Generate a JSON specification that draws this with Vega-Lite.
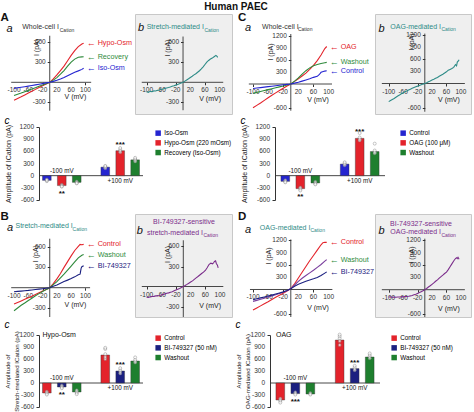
{
"$schema":"https://vega.github.io/schema/vega-lite/v6.json",
"padding":{"left":0,"top":1,"right":0,"bottom":0},
"background":"white",
"title":{"text":"Human PAEC","fontSize":10,"fontWeight":"bold","anchor":"middle","offset":0,"color":"#111"},
"config":{"view":{"stroke":null},"font":"Liberation Sans","numberFormat":"d"},
"resolve":{"scale":{"color":"independent","stroke":"independent","fill":"independent","xOffset":"independent"}},
"datasets":{
"xt":[{"t":-100,"lab":"-100"},{"t":-60,"lab":"-60"},{"t":-20,"lab":"-20"},{"t":20,"lab":"20"},{"t":60,"lab":"60"},{"t":100,"lab":"100"}],
"yt6":[{"t":-300,"lab":"-300"},{"t":300,"lab":"300"},{"t":600,"lab":"600"}],
"yt12":[{"t":-600,"lab":"-600"},{"t":300,"lab":"300"},{"t":600,"lab":"600"},{"t":900,"lab":"900"},{"t":1200,"lab":"1200"}],
"ybar":[{"t":-600,"lab":"-600"},{"t":-300,"lab":"-300"},{"t":0,"lab":"0"},{"t":300,"lab":"300"},{"t":600,"lab":"600"},{"t":900,"lab":"900"},{"t":1200,"lab":"1200"}],
"aa":[
{"s":"Hypo-Osm","V":-100,"I":-265},{"s":"Hypo-Osm","V":-90,"I":-240},{"s":"Hypo-Osm","V":-80,"I":-215},{"s":"Hypo-Osm","V":-70,"I":-188},{"s":"Hypo-Osm","V":-60,"I":-160},{"s":"Hypo-Osm","V":-50,"I":-132},{"s":"Hypo-Osm","V":-40,"I":-105},{"s":"Hypo-Osm","V":-30,"I":-78},{"s":"Hypo-Osm","V":-20,"I":-50},{"s":"Hypo-Osm","V":-10,"I":-24},{"s":"Hypo-Osm","V":0,"I":0},{"s":"Hypo-Osm","V":10,"I":50},{"s":"Hypo-Osm","V":20,"I":110},{"s":"Hypo-Osm","V":30,"I":175},{"s":"Hypo-Osm","V":40,"I":240},{"s":"Hypo-Osm","V":50,"I":320},{"s":"Hypo-Osm","V":60,"I":400},{"s":"Hypo-Osm","V":70,"I":470},{"s":"Hypo-Osm","V":80,"I":530},{"s":"Hypo-Osm","V":90,"I":570},{"s":"Hypo-Osm","V":95,"I":580},
{"s":"Recovery","V":-100,"I":-195},{"s":"Recovery","V":-90,"I":-178},{"s":"Recovery","V":-80,"I":-160},{"s":"Recovery","V":-70,"I":-140},{"s":"Recovery","V":-60,"I":-120},{"s":"Recovery","V":-50,"I":-100},{"s":"Recovery","V":-40,"I":-80},{"s":"Recovery","V":-30,"I":-60},{"s":"Recovery","V":-20,"I":-40},{"s":"Recovery","V":-10,"I":-20},{"s":"Recovery","V":0,"I":0},{"s":"Recovery","V":10,"I":32},{"s":"Recovery","V":20,"I":70},{"s":"Recovery","V":30,"I":120},{"s":"Recovery","V":40,"I":175},{"s":"Recovery","V":50,"I":240},{"s":"Recovery","V":60,"I":300},{"s":"Recovery","V":70,"I":345},{"s":"Recovery","V":80,"I":372},{"s":"Recovery","V":90,"I":378},{"s":"Recovery","V":95,"I":380},
{"s":"Iso-Osm","V":-100,"I":-90},{"s":"Iso-Osm","V":-90,"I":-82},{"s":"Iso-Osm","V":-80,"I":-74},{"s":"Iso-Osm","V":-70,"I":-66},{"s":"Iso-Osm","V":-60,"I":-57},{"s":"Iso-Osm","V":-50,"I":-47},{"s":"Iso-Osm","V":-40,"I":-38},{"s":"Iso-Osm","V":-30,"I":-28},{"s":"Iso-Osm","V":-20,"I":-19},{"s":"Iso-Osm","V":-10,"I":-9},{"s":"Iso-Osm","V":0,"I":0},{"s":"Iso-Osm","V":10,"I":14},{"s":"Iso-Osm","V":20,"I":30},{"s":"Iso-Osm","V":30,"I":48},{"s":"Iso-Osm","V":40,"I":70},{"s":"Iso-Osm","V":50,"I":97},{"s":"Iso-Osm","V":60,"I":125},{"s":"Iso-Osm","V":70,"I":150},{"s":"Iso-Osm","V":80,"I":170},{"s":"Iso-Osm","V":90,"I":192},{"s":"Iso-Osm","V":95,"I":210}],
"ab":[
{"V":-100,"I":-140},{"V":-95,"I":-150},{"V":-90,"I":-135},{"V":-85,"I":-140},{"V":-80,"I":-128},{"V":-75,"I":-130},{"V":-70,"I":-118},{"V":-65,"I":-115},{"V":-60,"I":-105},{"V":-55,"I":-100},{"V":-50,"I":-92},{"V":-45,"I":-85},{"V":-40,"I":-78},{"V":-35,"I":-70},{"V":-30,"I":-60},{"V":-25,"I":-52},{"V":-20,"I":-42},{"V":-15,"I":-32},{"V":-10,"I":-22},{"V":-5,"I":-10},{"V":0,"I":0},{"V":5,"I":18},{"V":10,"I":35},{"V":15,"I":52},{"V":20,"I":72},{"V":25,"I":90},{"V":30,"I":110},{"V":35,"I":128},{"V":40,"I":150},{"V":45,"I":172},{"V":50,"I":200},{"V":55,"I":230},{"V":60,"I":265},{"V":65,"I":300},{"V":70,"I":325},{"V":75,"I":345},{"V":80,"I":360},{"V":85,"I":380},{"V":90,"I":400},{"V":93,"I":385},{"V":95,"I":370}],
"ca":[
{"s":"OAG","V":-100,"I":-590},{"s":"OAG","V":-90,"I":-530},{"s":"OAG","V":-80,"I":-470},{"s":"OAG","V":-70,"I":-405},{"s":"OAG","V":-60,"I":-340},{"s":"OAG","V":-50,"I":-280},{"s":"OAG","V":-40,"I":-220},{"s":"OAG","V":-30,"I":-160},{"s":"OAG","V":-20,"I":-105},{"s":"OAG","V":-10,"I":-50},{"s":"OAG","V":0,"I":0},{"s":"OAG","V":10,"I":65},{"s":"OAG","V":20,"I":130},{"s":"OAG","V":30,"I":200},{"s":"OAG","V":40,"I":270},{"s":"OAG","V":50,"I":360},{"s":"OAG","V":60,"I":460},{"s":"OAG","V":70,"I":580},{"s":"OAG","V":80,"I":720},{"s":"OAG","V":90,"I":880},{"s":"OAG","V":95,"I":930},
{"s":"Washout","V":-100,"I":-230},{"s":"Washout","V":-90,"I":-208},{"s":"Washout","V":-80,"I":-185},{"s":"Washout","V":-70,"I":-163},{"s":"Washout","V":-60,"I":-140},{"s":"Washout","V":-50,"I":-118},{"s":"Washout","V":-40,"I":-95},{"s":"Washout","V":-30,"I":-72},{"s":"Washout","V":-20,"I":-50},{"s":"Washout","V":-10,"I":-25},{"s":"Washout","V":0,"I":0},{"s":"Washout","V":10,"I":70},{"s":"Washout","V":20,"I":150},{"s":"Washout","V":30,"I":245},{"s":"Washout","V":40,"I":330},{"s":"Washout","V":50,"I":400},{"s":"Washout","V":60,"I":450},{"s":"Washout","V":70,"I":485},{"s":"Washout","V":80,"I":510},{"s":"Washout","V":90,"I":528},{"s":"Washout","V":95,"I":537},
{"s":"Control","V":-100,"I":-110},{"s":"Control","V":-90,"I":-100},{"s":"Control","V":-80,"I":-90},{"s":"Control","V":-70,"I":-78},{"s":"Control","V":-60,"I":-65},{"s":"Control","V":-50,"I":-54},{"s":"Control","V":-40,"I":-43},{"s":"Control","V":-30,"I":-32},{"s":"Control","V":-20,"I":-20},{"s":"Control","V":-10,"I":-10},{"s":"Control","V":0,"I":0},{"s":"Control","V":10,"I":22},{"s":"Control","V":20,"I":45},{"s":"Control","V":30,"I":72},{"s":"Control","V":40,"I":100},{"s":"Control","V":50,"I":130},{"s":"Control","V":60,"I":165},{"s":"Control","V":70,"I":190},{"s":"Control","V":75,"I":230},{"s":"Control","V":80,"I":290},{"s":"Control","V":90,"I":320},{"s":"Control","V":95,"I":330}],
"cb":[
{"V":-100,"I":-450},{"V":-95,"I":-420},{"V":-90,"I":-395},{"V":-85,"I":-370},{"V":-80,"I":-340},{"V":-75,"I":-310},{"V":-70,"I":-285},{"V":-65,"I":-255},{"V":-60,"I":-230},{"V":-55,"I":-205},{"V":-50,"I":-185},{"V":-45,"I":-160},{"V":-40,"I":-140},{"V":-35,"I":-120},{"V":-30,"I":-100},{"V":-25,"I":-80},{"V":-20,"I":-65},{"V":-15,"I":-48},{"V":-10,"I":-32},{"V":-5,"I":-15},{"V":0,"I":0},{"V":5,"I":20},{"V":10,"I":42},{"V":15,"I":62},{"V":20,"I":85},{"V":25,"I":105},{"V":30,"I":128},{"V":35,"I":150},{"V":40,"I":180},{"V":45,"I":205},{"V":50,"I":230},{"V":55,"I":260},{"V":60,"I":290},{"V":65,"I":330},{"V":70,"I":350},{"V":75,"I":370},{"V":80,"I":400},{"V":85,"I":470},{"V":88,"I":440},{"V":90,"I":530},{"V":93,"I":560},{"V":95,"I":590}],
"ba":[
{"s":"Control","V":-100,"I":-240},{"s":"Control","V":-90,"I":-218},{"s":"Control","V":-80,"I":-195},{"s":"Control","V":-70,"I":-172},{"s":"Control","V":-60,"I":-150},{"s":"Control","V":-50,"I":-125},{"s":"Control","V":-40,"I":-100},{"s":"Control","V":-30,"I":-75},{"s":"Control","V":-20,"I":-50},{"s":"Control","V":-10,"I":-25},{"s":"Control","V":0,"I":0},{"s":"Control","V":10,"I":60},{"s":"Control","V":20,"I":130},{"s":"Control","V":30,"I":210},{"s":"Control","V":40,"I":300},{"s":"Control","V":50,"I":385},{"s":"Control","V":60,"I":470},{"s":"Control","V":70,"I":550},{"s":"Control","V":80,"I":610},{"s":"Control","V":85,"I":640},{"s":"Control","V":90,"I":635},{"s":"Control","V":95,"I":640},
{"s":"Washout","V":-100,"I":-340},{"s":"Washout","V":-90,"I":-300},{"s":"Washout","V":-80,"I":-260},{"s":"Washout","V":-70,"I":-225},{"s":"Washout","V":-60,"I":-190},{"s":"Washout","V":-50,"I":-155},{"s":"Washout","V":-40,"I":-120},{"s":"Washout","V":-30,"I":-88},{"s":"Washout","V":-20,"I":-55},{"s":"Washout","V":-10,"I":-27},{"s":"Washout","V":0,"I":0},{"s":"Washout","V":10,"I":45},{"s":"Washout","V":20,"I":90},{"s":"Washout","V":30,"I":145},{"s":"Washout","V":40,"I":200},{"s":"Washout","V":50,"I":260},{"s":"Washout","V":60,"I":320},{"s":"Washout","V":70,"I":380},{"s":"Washout","V":80,"I":440},{"s":"Washout","V":90,"I":480},{"s":"Washout","V":95,"I":490},
{"s":"BI-749327","V":-100,"I":-60},{"s":"BI-749327","V":-90,"I":-55},{"s":"BI-749327","V":-80,"I":-50},{"s":"BI-749327","V":-70,"I":-45},{"s":"BI-749327","V":-60,"I":-40},{"s":"BI-749327","V":-50,"I":-33},{"s":"BI-749327","V":-40,"I":-27},{"s":"BI-749327","V":-30,"I":-21},{"s":"BI-749327","V":-20,"I":-15},{"s":"BI-749327","V":-10,"I":-8},{"s":"BI-749327","V":0,"I":0},{"s":"BI-749327","V":10,"I":20},{"s":"BI-749327","V":20,"I":40},{"s":"BI-749327","V":30,"I":65},{"s":"BI-749327","V":40,"I":90},{"s":"BI-749327","V":50,"I":112},{"s":"BI-749327","V":60,"I":135},{"s":"BI-749327","V":70,"I":160},{"s":"BI-749327","V":80,"I":190},{"s":"BI-749327","V":85,"I":200},{"s":"BI-749327","V":88,"I":290},{"s":"BI-749327","V":90,"I":310},{"s":"BI-749327","V":95,"I":325}],
"bb":[
{"V":-100,"I":-160},{"V":-95,"I":-165},{"V":-90,"I":-155},{"V":-85,"I":-150},{"V":-80,"I":-148},{"V":-75,"I":-140},{"V":-70,"I":-140},{"V":-65,"I":-135},{"V":-60,"I":-128},{"V":-55,"I":-118},{"V":-50,"I":-110},{"V":-45,"I":-100},{"V":-40,"I":-95},{"V":-35,"I":-85},{"V":-30,"I":-78},{"V":-25,"I":-65},{"V":-20,"I":-52},{"V":-15,"I":-40},{"V":-10,"I":-28},{"V":-5,"I":-14},{"V":0,"I":0},{"V":5,"I":15},{"V":10,"I":32},{"V":15,"I":50},{"V":20,"I":68},{"V":25,"I":85},{"V":30,"I":108},{"V":35,"I":130},{"V":40,"I":150},{"V":45,"I":172},{"V":50,"I":195},{"V":55,"I":215},{"V":60,"I":240},{"V":65,"I":280},{"V":70,"I":330},{"V":75,"I":350},{"V":80,"I":340},{"V":83,"I":360},{"V":85,"I":375},{"V":88,"I":385},{"V":90,"I":345},{"V":93,"I":320},{"V":95,"I":280}],
"da":[
{"s":"Control","V":-100,"I":-500},{"s":"Control","V":-90,"I":-450},{"s":"Control","V":-80,"I":-400},{"s":"Control","V":-70,"I":-350},{"s":"Control","V":-60,"I":-300},{"s":"Control","V":-50,"I":-245},{"s":"Control","V":-40,"I":-190},{"s":"Control","V":-30,"I":-140},{"s":"Control","V":-20,"I":-90},{"s":"Control","V":-10,"I":-40},{"s":"Control","V":0,"I":20},{"s":"Control","V":10,"I":140},{"s":"Control","V":20,"I":280},{"s":"Control","V":30,"I":420},{"s":"Control","V":40,"I":560},{"s":"Control","V":50,"I":700},{"s":"Control","V":60,"I":830},{"s":"Control","V":70,"I":960},{"s":"Control","V":80,"I":1090},{"s":"Control","V":85,"I":1140},{"s":"Control","V":90,"I":1150},{"s":"Control","V":95,"I":1150},
{"s":"Washout","V":-100,"I":-290},{"s":"Washout","V":-90,"I":-265},{"s":"Washout","V":-80,"I":-238},{"s":"Washout","V":-70,"I":-212},{"s":"Washout","V":-60,"I":-185},{"s":"Washout","V":-50,"I":-158},{"s":"Washout","V":-40,"I":-130},{"s":"Washout","V":-30,"I":-100},{"s":"Washout","V":-20,"I":-70},{"s":"Washout","V":-10,"I":-30},{"s":"Washout","V":0,"I":25},{"s":"Washout","V":10,"I":110},{"s":"Washout","V":20,"I":200},{"s":"Washout","V":30,"I":275},{"s":"Washout","V":40,"I":340},{"s":"Washout","V":50,"I":405},{"s":"Washout","V":60,"I":470},{"s":"Washout","V":70,"I":540},{"s":"Washout","V":80,"I":610},{"s":"Washout","V":90,"I":690},{"s":"Washout","V":95,"I":730},
{"s":"BI-749327","V":-100,"I":-250},{"s":"BI-749327","V":-90,"I":-228},{"s":"BI-749327","V":-80,"I":-205},{"s":"BI-749327","V":-70,"I":-183},{"s":"BI-749327","V":-60,"I":-160},{"s":"BI-749327","V":-50,"I":-137},{"s":"BI-749327","V":-40,"I":-112},{"s":"BI-749327","V":-30,"I":-85},{"s":"BI-749327","V":-20,"I":-58},{"s":"BI-749327","V":-10,"I":-25},{"s":"BI-749327","V":0,"I":15},{"s":"BI-749327","V":10,"I":80},{"s":"BI-749327","V":20,"I":130},{"s":"BI-749327","V":30,"I":165},{"s":"BI-749327","V":40,"I":200},{"s":"BI-749327","V":50,"I":230},{"s":"BI-749327","V":60,"I":260},{"s":"BI-749327","V":70,"I":295},{"s":"BI-749327","V":80,"I":340},{"s":"BI-749327","V":90,"I":400},{"s":"BI-749327","V":95,"I":430}],
"db":[
{"V":-100,"I":-180},{"V":-95,"I":-175},{"V":-90,"I":-185},{"V":-85,"I":-178},{"V":-80,"I":-185},{"V":-75,"I":-178},{"V":-70,"I":-180},{"V":-65,"I":-175},{"V":-60,"I":-175},{"V":-55,"I":-168},{"V":-50,"I":-165},{"V":-45,"I":-158},{"V":-40,"I":-150},{"V":-35,"I":-140},{"V":-30,"I":-125},{"V":-25,"I":-110},{"V":-20,"I":-90},{"V":-15,"I":-70},{"V":-10,"I":-48},{"V":-5,"I":-25},{"V":0,"I":0},{"V":5,"I":30},{"V":10,"I":65},{"V":15,"I":95},{"V":20,"I":130},{"V":25,"I":165},{"V":30,"I":205},{"V":35,"I":240},{"V":40,"I":280},{"V":45,"I":320},{"V":50,"I":355},{"V":55,"I":395},{"V":60,"I":430},{"V":65,"I":490},{"V":70,"I":560},{"V":75,"I":630},{"V":80,"I":700},{"V":85,"I":760},{"V":88,"I":780},{"V":90,"I":760},{"V":92,"I":790},{"V":95,"I":740}],
"acBars":[
{"grp":"-100 mV","cond":"Iso-Osm","amp":-115,"sig":""},{"grp":"-100 mV","cond":"Hypo-Osm (220 mOsm)","amp":-245,"sig":"**"},{"grp":"-100 mV","cond":"Recovery (Iso-Osm)","amp":-165,"sig":""},
{"grp":"+100 mV","cond":"Iso-Osm","amp":210,"sig":""},{"grp":"+100 mV","cond":"Hypo-Osm (220 mOsm)","amp":615,"sig":"***"},{"grp":"+100 mV","cond":"Recovery (Iso-Osm)","amp":390,"sig":""}],
"acPts":[
{"grp":"-100 mV","cond":"Iso-Osm","v":-95},{"grp":"-100 mV","cond":"Iso-Osm","v":-120},{"grp":"-100 mV","cond":"Iso-Osm","v":-135},{"grp":"-100 mV","cond":"Iso-Osm","v":-105},
{"grp":"-100 mV","cond":"Hypo-Osm (220 mOsm)","v":-225},{"grp":"-100 mV","cond":"Hypo-Osm (220 mOsm)","v":-240},{"grp":"-100 mV","cond":"Hypo-Osm (220 mOsm)","v":-260},{"grp":"-100 mV","cond":"Hypo-Osm (220 mOsm)","v":-270},
{"grp":"-100 mV","cond":"Recovery (Iso-Osm)","v":-145},{"grp":"-100 mV","cond":"Recovery (Iso-Osm)","v":-160},{"grp":"-100 mV","cond":"Recovery (Iso-Osm)","v":-180},{"grp":"-100 mV","cond":"Recovery (Iso-Osm)","v":-190},
{"grp":"+100 mV","cond":"Iso-Osm","v":185},{"grp":"+100 mV","cond":"Iso-Osm","v":205},{"grp":"+100 mV","cond":"Iso-Osm","v":225},{"grp":"+100 mV","cond":"Iso-Osm","v":240},
{"grp":"+100 mV","cond":"Hypo-Osm (220 mOsm)","v":575},{"grp":"+100 mV","cond":"Hypo-Osm (220 mOsm)","v":610},{"grp":"+100 mV","cond":"Hypo-Osm (220 mOsm)","v":640},{"grp":"+100 mV","cond":"Hypo-Osm (220 mOsm)","v":680},
{"grp":"+100 mV","cond":"Recovery (Iso-Osm)","v":350},{"grp":"+100 mV","cond":"Recovery (Iso-Osm)","v":380},{"grp":"+100 mV","cond":"Recovery (Iso-Osm)","v":410},{"grp":"+100 mV","cond":"Recovery (Iso-Osm)","v":440}],
"ccBars":[
{"grp":"-100 mV","cond":"Control","amp":-140,"sig":""},{"grp":"-100 mV","cond":"OAG (100 μM)","amp":-320,"sig":"**"},{"grp":"-100 mV","cond":"Washout","amp":-180,"sig":""},
{"grp":"+100 mV","cond":"Control","amp":285,"sig":""},{"grp":"+100 mV","cond":"OAG (100 μM)","amp":920,"sig":"***"},{"grp":"+100 mV","cond":"Washout","amp":595,"sig":""}],
"ccPts":[
{"grp":"-100 mV","cond":"Control","v":-110},{"grp":"-100 mV","cond":"Control","v":-130},{"grp":"-100 mV","cond":"Control","v":-150},{"grp":"-100 mV","cond":"Control","v":-165},
{"grp":"-100 mV","cond":"OAG (100 μM)","v":-290},{"grp":"-100 mV","cond":"OAG (100 μM)","v":-310},{"grp":"-100 mV","cond":"OAG (100 μM)","v":-340},{"grp":"-100 mV","cond":"OAG (100 μM)","v":-365},
{"grp":"-100 mV","cond":"Washout","v":-150},{"grp":"-100 mV","cond":"Washout","v":-175},{"grp":"-100 mV","cond":"Washout","v":-200},{"grp":"-100 mV","cond":"Washout","v":-215},
{"grp":"+100 mV","cond":"Control","v":255},{"grp":"+100 mV","cond":"Control","v":280},{"grp":"+100 mV","cond":"Control","v":300},{"grp":"+100 mV","cond":"Control","v":330},
{"grp":"+100 mV","cond":"OAG (100 μM)","v":870},{"grp":"+100 mV","cond":"OAG (100 μM)","v":900},{"grp":"+100 mV","cond":"OAG (100 μM)","v":940},{"grp":"+100 mV","cond":"OAG (100 μM)","v":1050},
{"grp":"+100 mV","cond":"Washout","v":550},{"grp":"+100 mV","cond":"Washout","v":580},{"grp":"+100 mV","cond":"Washout","v":620},{"grp":"+100 mV","cond":"Washout","v":790}],
"bcBars":[
{"grp":"-100 mV","cond":"Control","amp":-250,"sig":""},{"grp":"-100 mV","cond":"BI-749327 (50 nM)","amp":-100,"sig":"**"},{"grp":"-100 mV","cond":"Washout","amp":-225,"sig":""},
{"grp":"+100 mV","cond":"Control","amp":700,"sig":""},{"grp":"+100 mV","cond":"BI-749327 (50 nM)","amp":300,"sig":"***"},{"grp":"+100 mV","cond":"Washout","amp":550,"sig":""}],
"bcPts":[
{"grp":"-100 mV","cond":"Control","v":-215},{"grp":"-100 mV","cond":"Control","v":-240},{"grp":"-100 mV","cond":"Control","v":-265},{"grp":"-100 mV","cond":"Control","v":-290},
{"grp":"-100 mV","cond":"BI-749327 (50 nM)","v":-60},{"grp":"-100 mV","cond":"BI-749327 (50 nM)","v":-85},{"grp":"-100 mV","cond":"BI-749327 (50 nM)","v":-110},{"grp":"-100 mV","cond":"BI-749327 (50 nM)","v":-130},
{"grp":"-100 mV","cond":"Washout","v":-180},{"grp":"-100 mV","cond":"Washout","v":-215},{"grp":"-100 mV","cond":"Washout","v":-250},{"grp":"-100 mV","cond":"Washout","v":-280},
{"grp":"+100 mV","cond":"Control","v":600},{"grp":"+100 mV","cond":"Control","v":650},{"grp":"+100 mV","cond":"Control","v":720},{"grp":"+100 mV","cond":"Control","v":850},{"grp":"+100 mV","cond":"Control","v":880},
{"grp":"+100 mV","cond":"BI-749327 (50 nM)","v":240},{"grp":"+100 mV","cond":"BI-749327 (50 nM)","v":280},{"grp":"+100 mV","cond":"BI-749327 (50 nM)","v":320},{"grp":"+100 mV","cond":"BI-749327 (50 nM)","v":370},
{"grp":"+100 mV","cond":"Washout","v":510},{"grp":"+100 mV","cond":"Washout","v":540},{"grp":"+100 mV","cond":"Washout","v":580},{"grp":"+100 mV","cond":"Washout","v":640}],
"dcBars":[
{"grp":"-100 mV","cond":"Control","amp":-425,"sig":""},{"grp":"-100 mV","cond":"BI-749327 (50 nM)","amp":-265,"sig":"***"},{"grp":"-100 mV","cond":"Washout","amp":-275,"sig":""},
{"grp":"+100 mV","cond":"Control","amp":1075,"sig":""},{"grp":"+100 mV","cond":"BI-749327 (50 nM)","amp":360,"sig":"***"},{"grp":"+100 mV","cond":"Washout","amp":650,"sig":""}],
"dcPts":[
{"grp":"-100 mV","cond":"Control","v":-390},{"grp":"-100 mV","cond":"Control","v":-420},{"grp":"-100 mV","cond":"Control","v":-450},{"grp":"-100 mV","cond":"Control","v":-490},
{"grp":"-100 mV","cond":"BI-749327 (50 nM)","v":-230},{"grp":"-100 mV","cond":"BI-749327 (50 nM)","v":-260},{"grp":"-100 mV","cond":"BI-749327 (50 nM)","v":-290},
{"grp":"-100 mV","cond":"Washout","v":-250},{"grp":"-100 mV","cond":"Washout","v":-270},{"grp":"-100 mV","cond":"Washout","v":-290},
{"grp":"+100 mV","cond":"Control","v":950},{"grp":"+100 mV","cond":"Control","v":1050},{"grp":"+100 mV","cond":"Control","v":1120},{"grp":"+100 mV","cond":"Control","v":1170},{"grp":"+100 mV","cond":"Control","v":1210},
{"grp":"+100 mV","cond":"BI-749327 (50 nM)","v":320},{"grp":"+100 mV","cond":"BI-749327 (50 nM)","v":350},{"grp":"+100 mV","cond":"BI-749327 (50 nM)","v":390},{"grp":"+100 mV","cond":"BI-749327 (50 nM)","v":430},
{"grp":"+100 mV","cond":"Washout","v":620},{"grp":"+100 mV","cond":"Washout","v":660},{"grp":"+100 mV","cond":"Washout","v":700},{"grp":"+100 mV","cond":"Washout","v":740}]
},
"spacing":6,
"vconcat":[
{"spacing":1,"resolve":{"scale":{"color":"independent","stroke":"independent","fill":"independent","xOffset":"independent"}},"vconcat":[
{"hconcat":[
{"width":92.5,"height":100,"layer":[
{"data":{"values":[{}]},"mark":{"type":"rule","color":"#333","strokeWidth":0.9},"encoding":{"x":{"datum":-108,"type":"quantitative"},"x2":{"datum":116},"y":{"datum":0,"type":"quantitative"}}},
{"data":{"values":[{}]},"mark":{"type":"rule","color":"#333","strokeWidth":0.9},"encoding":{"x":{"datum":0,"type":"quantitative"},"y":{"datum":-422,"type":"quantitative"},"y2":{"datum":692}}},
{"data":{"name":"xt"},"mark":{"type":"text","fontSize":6.5,"color":"#333","baseline":"middle","dy":8},"encoding":{"x":{"field":"t","type":"quantitative"},"y":{"datum":0,"type":"quantitative"},"text":{"field":"lab"}}},
{"data":{"name":"yt6"},"mark":{"type":"text","fontSize":6.5,"color":"#333","align":"right","baseline":"middle","dx":-4},"encoding":{"x":{"datum":0,"type":"quantitative"},"y":{"field":"t","type":"quantitative"},"text":{"field":"lab"}}},
{"data":{"name":"aa"},"mark":{"type":"line","strokeWidth":1.1},"encoding":{
"x":{"field":"V","type":"quantitative","scale":{"domain":[-30.1,229],"nice":false,"zero":false},"axis":{"values":[-100,-60,-20,20,60,100],"offset":-31.7,"domain":false,"grid":false,"labels":false,"title":null,"tickSize":2.5,"tickColor":"#333"}},
"y":{"field":"I","type":"quantitative","scale":{"domain":[-471,1015],"nice":false,"zero":false},"axis":{"values":[-300,300,600],"offset":-10.75,"domain":false,"grid":false,"labels":false,"title":null,"tickSize":2.5,"tickColor":"#333"}},
"stroke":{"field":"s","type":"nominal","scale":{"domain":["Hypo-Osm","Recovery","Iso-Osm"],"range":["#e3232b","#2f8a3c","#2525d0"]},"legend":null}}},
{"data":{"name":"aa"},"transform":[{"filter":"datum.V == 95"}],"mark":{"type":"text","text":"←","align":"left","baseline":"middle","dx":3,"fontSize":9},"encoding":{"x":{"field":"V","type":"quantitative"},"y":{"field":"I","type":"quantitative"},"fill":{"field":"s","type":"nominal","scale":{"domain":["Hypo-Osm","Recovery","Iso-Osm"],"range":["#e3232b","#2f8a3c","#2525d0"]},"legend":null}}},
{"data":{"name":"aa"},"transform":[{"filter":"datum.V == 95"}],"mark":{"type":"text","align":"left","baseline":"middle","dx":14,"fontSize":7.2},"encoding":{"x":{"field":"V","type":"quantitative"},"y":{"field":"I","type":"quantitative"},"text":{"field":"s"},"fill":{"field":"s","type":"nominal","scale":{"domain":["Hypo-Osm","Recovery","Iso-Osm"],"range":["#e3232b","#2f8a3c","#2525d0"]},"legend":null}}},
{"data":{"values":[{}]},"mark":{"type":"text","text":"A","align":"left","baseline":"middle","fontSize":11.5,"fontWeight":"bold","color":"#111"},"encoding":{"x":{"datum":-138,"type":"quantitative"},"y":{"datum":958,"type":"quantitative"}}},
{"data":{"values":[{}]},"mark":{"type":"text","text":"a","align":"left","baseline":"middle","fontSize":11,"fontStyle":"italic","color":"#111"},"encoding":{"x":{"datum":-121,"type":"quantitative"},"y":{"datum":795,"type":"quantitative"}}},
{"data":{"values":[{}]},"mark":{"type":"text","text":"Whole-cell I","align":"left","baseline":"middle","fontSize":7,"color":"#333"},"encoding":{"x":{"datum":-77,"type":"quantitative"},"y":{"datum":829,"type":"quantitative"}}},
{"data":{"values":[{}]},"mark":{"type":"text","text":"Cation","align":"left","baseline":"middle","fontSize":5,"color":"#333"},"encoding":{"x":{"datum":28,"type":"quantitative"},"y":{"datum":777,"type":"quantitative"}}},
{"data":{"values":[{}]},"mark":{"type":"text","text":"I (pA)","align":"center","baseline":"middle","fontSize":7,"angle":270,"color":"#222"},"encoding":{"x":{"datum":-35,"type":"quantitative"},"y":{"datum":517,"type":"quantitative"}}},
{"data":{"values":[{}]},"mark":{"type":"text","text":"V (mV)","align":"center","baseline":"middle","fontSize":7,"color":"#222"},"encoding":{"x":{"datum":72,"type":"quantitative"},"y":{"datum":-211,"type":"quantitative"}}}
]},
{"width":97,"height":100,"view":{"fill":"#efefef","stroke":"#c8c8c8"},"layer":[
{"data":{"values":[{}]},"mark":{"type":"rule","color":"#333","strokeWidth":0.9},"encoding":{"x":{"datum":-113,"type":"quantitative"},"x2":{"datum":110},"y":{"datum":0,"type":"quantitative"}}},
{"data":{"values":[{}]},"mark":{"type":"rule","color":"#333","strokeWidth":0.9},"encoding":{"x":{"datum":0,"type":"quantitative"},"y":{"datum":-415,"type":"quantitative"},"y2":{"datum":680}}},
{"data":{"name":"xt"},"mark":{"type":"text","fontSize":6.5,"color":"#333","baseline":"middle","dy":8},"encoding":{"x":{"field":"t","type":"quantitative"},"y":{"datum":0,"type":"quantitative"},"text":{"field":"lab"}}},
{"data":{"name":"yt6"},"mark":{"type":"text","fontSize":6.5,"color":"#333","align":"right","baseline":"middle","dx":-4},"encoding":{"x":{"datum":0,"type":"quantitative"},"y":{"field":"t","type":"quantitative"},"text":{"field":"lab"}}},
{"data":{"name":"ab"},"mark":{"type":"line","strokeWidth":1.1,"color":"#2e8b87"},"encoding":{
"x":{"field":"V","type":"quantitative","scale":{"domain":[-131.5,134],"nice":false,"zero":false},"axis":{"values":[-100,-60,-20,20,60,100],"offset":-31.7,"domain":false,"grid":false,"labels":false,"title":null,"tickSize":2.5,"tickColor":"#333"}},
"y":{"field":"I","type":"quantitative","scale":{"domain":[-471,1015],"nice":false,"zero":false},"axis":{"values":[-300,300,600],"offset":-48,"domain":false,"grid":false,"labels":false,"title":null,"tickSize":2.5,"tickColor":"#333"}}}},
{"data":{"values":[{}]},"mark":{"type":"text","text":"b","align":"left","baseline":"middle","fontSize":11,"fontStyle":"italic","color":"#111"},"encoding":{"x":{"datum":-123,"type":"quantitative"},"y":{"datum":800,"type":"quantitative"}}},
{"data":{"values":[{}]},"mark":{"type":"text","text":"Stretch-mediated I","align":"left","baseline":"middle","fontSize":7,"color":"#2e8b87"},"encoding":{"x":{"datum":-99.5,"type":"quantitative"},"y":{"datum":822,"type":"quantitative"}}},
{"data":{"values":[{}]},"mark":{"type":"text","text":"Cation","align":"left","baseline":"middle","fontSize":5,"color":"#2e8b87"},"encoding":{"x":{"datum":58.5,"type":"quantitative"},"y":{"datum":777,"type":"quantitative"}}},
{"data":{"values":[{}]},"mark":{"type":"text","text":"I (pA)","align":"center","baseline":"middle","fontSize":7,"angle":270,"color":"#222"},"encoding":{"x":{"datum":-41,"type":"quantitative"},"y":{"datum":510,"type":"quantitative"}}},
{"data":{"values":[{}]},"mark":{"type":"text","text":"V (mV)","align":"center","baseline":"middle","fontSize":7,"color":"#222"},"encoding":{"x":{"datum":74,"type":"quantitative"},"y":{"datum":-243,"type":"quantitative"}}}
]},
{"width":137,"height":100,"layer":[
{"data":{"values":[{}]},"mark":{"type":"rule","color":"#333","strokeWidth":0.9},"encoding":{"x":{"datum":-111,"type":"quantitative"},"x2":{"datum":109},"y":{"datum":0,"type":"quantitative"}}},
{"data":{"values":[{}]},"mark":{"type":"rule","color":"#333","strokeWidth":0.9},"encoding":{"x":{"datum":0,"type":"quantitative"},"y":{"datum":-662,"type":"quantitative"},"y2":{"datum":1240}}},
{"data":{"name":"xt"},"mark":{"type":"text","fontSize":6.5,"color":"#333","baseline":"middle","dy":8},"encoding":{"x":{"field":"t","type":"quantitative"},"y":{"datum":0,"type":"quantitative"},"text":{"field":"lab"}}},
{"data":{"name":"yt12"},"mark":{"type":"text","fontSize":6.5,"color":"#333","align":"right","baseline":"middle","dx":-4},"encoding":{"x":{"datum":0,"type":"quantitative"},"y":{"field":"t","type":"quantitative"},"text":{"field":"lab"}}},
{"data":{"name":"ca"},"mark":{"type":"line","strokeWidth":1.1},"encoding":{
"x":{"field":"V","type":"quantitative","scale":{"domain":[-147.6,214.8],"nice":false,"zero":false},"axis":{"values":[-100,-60,-20,20,60,100],"offset":-30,"domain":false,"grid":false,"labels":false,"title":null,"tickSize":2.5,"tickColor":"#333"}},
"y":{"field":"I","type":"quantitative","scale":{"domain":[-744,1736],"nice":false,"zero":false},"axis":{"values":[-600,300,600,900,1200],"offset":-55.8,"domain":false,"grid":false,"labels":false,"title":null,"tickSize":2.5,"tickColor":"#333"}},
"stroke":{"field":"s","type":"nominal","scale":{"domain":["OAG","Washout","Control"],"range":["#e3232b","#2f8a3c","#2525d0"]},"legend":null}}},
{"data":{"name":"ca"},"transform":[{"filter":"datum.V == 95"}],"mark":{"type":"text","text":"←","align":"left","baseline":"middle","dx":3,"fontSize":9},"encoding":{"x":{"field":"V","type":"quantitative"},"y":{"field":"I","type":"quantitative"},"fill":{"field":"s","type":"nominal","scale":{"domain":["OAG","Washout","Control"],"range":["#e3232b","#2f8a3c","#2525d0"]},"legend":null}}},
{"data":{"name":"ca"},"transform":[{"filter":"datum.V == 95"}],"mark":{"type":"text","align":"left","baseline":"middle","dx":14,"fontSize":7.2},"encoding":{"x":{"field":"V","type":"quantitative"},"y":{"field":"I","type":"quantitative"},"text":{"field":"s"},"fill":{"field":"s","type":"nominal","scale":{"domain":["OAG","Washout","Control"],"range":["#e3232b","#2f8a3c","#2525d0"]},"legend":null}}},
{"data":{"values":[{}]},"mark":{"type":"text","text":"C","align":"left","baseline":"middle","fontSize":11.5,"fontWeight":"bold","color":"#111"},"encoding":{"x":{"datum":-139.7,"type":"quantitative"},"y":{"datum":1640,"type":"quantitative"}}},
{"data":{"values":[{}]},"mark":{"type":"text","text":"a","align":"left","baseline":"middle","fontSize":11,"fontStyle":"italic","color":"#111"},"encoding":{"x":{"datum":-121,"type":"quantitative"},"y":{"datum":1380,"type":"quantitative"}}},
{"data":{"values":[{}]},"mark":{"type":"text","text":"Whole-cell I","align":"left","baseline":"middle","fontSize":7,"color":"#333"},"encoding":{"x":{"datum":-76,"type":"quantitative"},"y":{"datum":1426,"type":"quantitative"}}},
{"data":{"values":[{}]},"mark":{"type":"text","text":"Cation","align":"left","baseline":"middle","fontSize":5,"color":"#333"},"encoding":{"x":{"datum":19,"type":"quantitative"},"y":{"datum":1364,"type":"quantitative"}}},
{"data":{"values":[{}]},"mark":{"type":"text","text":"I (pA)","align":"center","baseline":"middle","fontSize":7,"angle":270,"color":"#222"},"encoding":{"x":{"datum":-52,"type":"quantitative"},"y":{"datum":793,"type":"quantitative"}}},
{"data":{"values":[{}]},"mark":{"type":"text","text":"V (mV)","align":"center","baseline":"middle","fontSize":7,"color":"#222"},"encoding":{"x":{"datum":72,"type":"quantitative"},"y":{"datum":-397,"type":"quantitative"}}}
]},
{"width":96,"height":100,"view":{"fill":"#efefef","stroke":"#c8c8c8"},"layer":[
{"data":{"values":[{}]},"mark":{"type":"rule","color":"#333","strokeWidth":0.9},"encoding":{"x":{"datum":-119,"type":"quantitative"},"x2":{"datum":111},"y":{"datum":0,"type":"quantitative"}}},
{"data":{"values":[{}]},"mark":{"type":"rule","color":"#333","strokeWidth":0.9},"encoding":{"x":{"datum":0,"type":"quantitative"},"y":{"datum":-700,"type":"quantitative"},"y2":{"datum":1237}}},
{"data":{"name":"xt"},"mark":{"type":"text","fontSize":6.5,"color":"#333","baseline":"middle","dy":8},"encoding":{"x":{"field":"t","type":"quantitative"},"y":{"datum":0,"type":"quantitative"},"text":{"field":"lab"}}},
{"data":{"name":"yt12"},"mark":{"type":"text","fontSize":6.5,"color":"#333","align":"right","baseline":"middle","dx":-4},"encoding":{"x":{"datum":0,"type":"quantitative"},"y":{"field":"t","type":"quantitative"},"text":{"field":"lab"}}},
{"data":{"name":"cb"},"mark":{"type":"line","strokeWidth":1.1,"color":"#2e8b87"},"encoding":{
"x":{"field":"V","type":"quantitative","scale":{"domain":[-138,128],"nice":false,"zero":false},"axis":{"values":[-100,-60,-20,20,60,100],"offset":-30.5,"domain":false,"grid":false,"labels":false,"title":null,"tickSize":2.5,"tickColor":"#333"}},
"y":{"field":"I","type":"quantitative","scale":{"domain":[-756,1723],"nice":false,"zero":false},"axis":{"values":[-600,300,600,900,1200],"offset":-49.8,"domain":false,"grid":false,"labels":false,"title":null,"tickSize":2.5,"tickColor":"#333"}}}},
{"data":{"values":[{}]},"mark":{"type":"text","text":"b","align":"left","baseline":"middle","fontSize":11,"fontStyle":"italic","color":"#111"},"encoding":{"x":{"datum":-128,"type":"quantitative"},"y":{"datum":1351,"type":"quantitative"}}},
{"data":{"values":[{}]},"mark":{"type":"text","text":"OAG-mediated I","align":"left","baseline":"middle","fontSize":7,"color":"#2e8b87"},"encoding":{"x":{"datum":-95.5,"type":"quantitative"},"y":{"datum":1401,"type":"quantitative"}}},
{"data":{"values":[{}]},"mark":{"type":"text","text":"Cation","align":"left","baseline":"middle","fontSize":5,"color":"#2e8b87"},"encoding":{"x":{"datum":46,"type":"quantitative"},"y":{"datum":1339,"type":"quantitative"}}},
{"data":{"values":[{}]},"mark":{"type":"text","text":"I (pA)","align":"center","baseline":"middle","fontSize":7,"angle":270,"color":"#222"},"encoding":{"x":{"datum":-35,"type":"quantitative"},"y":{"datum":1029,"type":"quantitative"}}},
{"data":{"values":[{}]},"mark":{"type":"text","text":"V (mV)","align":"center","baseline":"middle","fontSize":7,"color":"#222"},"encoding":{"x":{"datum":67,"type":"quantitative"},"y":{"datum":-416,"type":"quantitative"}}}
]}
],"spacing":3,"bounds":"flush","resolve":{"scale":{"color":"independent","stroke":"independent","fill":"independent","xOffset":"independent"}}},
{"hconcat":[
{"width":104,"height":73,"title":{"text":"c","anchor":"start","frame":"bounds","fontSize":10,"fontStyle":"italic","fontWeight":"normal","offset":-2},"layer":[
{"data":{"values":[{}]},"mark":{"type":"rule","color":"#333","strokeWidth":0.9},"encoding":{"y":{"datum":0,"type":"quantitative"}}},
{"data":{"name":"acBars"},"mark":{"type":"bar","stroke":"#333","strokeWidth":0.4},"encoding":{
"x":{"field":"grp","type":"nominal","scale":{"domain":["-100 mV","+100 mV"],"paddingInner":0.34,"paddingOuter":0.06},"axis":null},
"xOffset":{"field":"cond","type":"nominal","scale":{"domain":["Iso-Osm","Hypo-Osm (220 mOsm)","Recovery (Iso-Osm)"],"paddingInner":0.42,"paddingOuter":0}},
"y":{"field":"amp","type":"quantitative","scale":{"domain":[-600,1200],"nice":false},"axis":{"values":[-600,-300,0,300,600,900,1200],"labels":false,"title":"Amplitude of ICation (pA)","titleFontSize":7,"titleFontWeight":"normal","titleColor":"#222","titlePadding":24,"tickSize":3,"tickColor":"#333","domainColor":"#333","grid":false}},
"color":{"field":"cond","type":"nominal","scale":{"domain":["Iso-Osm","Hypo-Osm (220 mOsm)","Recovery (Iso-Osm)"],"range":["#2525d0","#e3232b","#1e7f2e"]},"legend":{"title":null,"orient":"right","offset":8.5,"symbolType":"square","symbolSize":30,"symbolStrokeWidth":0,"labelFontSize":6.3,"rowPadding":2.7,"padding":3,"labelOffset":3,"encode":{"labels":{"update":{"fill":{"signal":"datum.value == 'Iso-Osm' ? '#2525d0' : datum.value == 'Recovery (Iso-Osm)' ? '#1e7f2e' : '#e3232b'"}}}}}}}},
{"data":{"name":"ybar"},"mark":{"type":"text","fontSize":6.5,"color":"#333","align":"right","baseline":"middle","dx":-8.5},"encoding":{"x":{"datum":"-100 mV","type":"nominal","bandPosition":0,"axis":null},"y":{"field":"t","type":"quantitative"},"text":{"field":"lab"}}},
{"data":{"name":"acPts"},"mark":{"type":"point","filled":true,"fill":"white","stroke":"#777","strokeWidth":0.6,"size":9},"encoding":{"x":{"field":"grp","type":"nominal","axis":null},"xOffset":{"field":"cond","type":"nominal"},"y":{"field":"v","type":"quantitative"}}},
{"data":{"name":"acBars"},"transform":[{"filter":"datum.sig != ''"}],"mark":{"type":"text","fontSize":8,"fontWeight":"bold","baseline":"middle","color":"#111","dy":{"expr":"datum.amp < 0 ? 8 : -6"}},"encoding":{"x":{"field":"grp","type":"nominal","axis":null},"xOffset":{"field":"cond","type":"nominal"},"y":{"field":"amp","type":"quantitative"},"text":{"field":"sig"}}},
{"data":{"values":[{"grp":"-100 mV"},{"grp":"+100 mV"}]},"mark":{"type":"text","fontSize":6.3,"baseline":"middle","color":"#111","dy":{"expr":"datum.grp == '-100 mV' ? -5 : 5"}},"encoding":{"x":{"field":"grp","type":"nominal","axis":null},"y":{"datum":0,"type":"quantitative"},"text":{"field":"grp"}}}
]},
{"width":110,"height":73,"title":{"text":"c","anchor":"start","frame":"bounds","fontSize":10,"fontStyle":"italic","fontWeight":"normal","offset":-2},"layer":[
{"data":{"values":[{}]},"mark":{"type":"rule","color":"#333","strokeWidth":0.9},"encoding":{"y":{"datum":0,"type":"quantitative"}}},
{"data":{"name":"ccBars"},"mark":{"type":"bar","stroke":"#333","strokeWidth":0.4},"encoding":{
"x":{"field":"grp","type":"nominal","scale":{"domain":["-100 mV","+100 mV"],"paddingInner":0.347,"paddingOuter":0.1},"axis":null},
"xOffset":{"field":"cond","type":"nominal","scale":{"domain":["Control","OAG (100 μM)","Washout"],"paddingInner":0.42,"paddingOuter":0}},
"y":{"field":"amp","type":"quantitative","scale":{"domain":[-600,1200],"nice":false},"axis":{"values":[-600,-300,0,300,600,900,1200],"labels":false,"title":"Amplitude of ICation (pA)","titleFontSize":7,"titleFontWeight":"normal","titleColor":"#222","titlePadding":24,"tickSize":3,"tickColor":"#333","domainColor":"#333","grid":false}},
"color":{"field":"cond","type":"nominal","scale":{"domain":["Control","OAG (100 μM)","Washout"],"range":["#2525d0","#e3232b","#1e7f2e"]},"legend":{"title":null,"orient":"right","offset":11.7,"symbolType":"square","symbolSize":30,"symbolStrokeWidth":0,"labelFontSize":6.3,"rowPadding":2.7,"padding":3,"labelOffset":3,"encode":{"labels":{"update":{"fill":{"signal":"datum.value == 'Control' ? '#2525d0' : datum.value == 'Washout' ? '#1e7f2e' : '#e3232b'"}}}}}}}},
{"data":{"name":"ybar"},"mark":{"type":"text","fontSize":6.5,"color":"#333","align":"right","baseline":"middle","dx":-10.9},"encoding":{"x":{"datum":"-100 mV","type":"nominal","bandPosition":0,"axis":null},"y":{"field":"t","type":"quantitative"},"text":{"field":"lab"}}},
{"data":{"name":"ccPts"},"mark":{"type":"point","filled":true,"fill":"white","stroke":"#777","strokeWidth":0.6,"size":9},"encoding":{"x":{"field":"grp","type":"nominal","axis":null},"xOffset":{"field":"cond","type":"nominal"},"y":{"field":"v","type":"quantitative"}}},
{"data":{"name":"ccBars"},"transform":[{"filter":"datum.sig != ''"}],"mark":{"type":"text","fontSize":8,"fontWeight":"bold","baseline":"middle","color":"#111","dy":{"expr":"datum.amp < 0 ? 8 : -6"}},"encoding":{"x":{"field":"grp","type":"nominal","axis":null},"xOffset":{"field":"cond","type":"nominal"},"y":{"field":"amp","type":"quantitative"},"text":{"field":"sig"}}},
{"data":{"values":[{"grp":"-100 mV"},{"grp":"+100 mV"}]},"mark":{"type":"text","fontSize":6.3,"baseline":"middle","color":"#111","dy":{"expr":"datum.grp == '-100 mV' ? -5 : 5"}},"encoding":{"x":{"field":"grp","type":"nominal","axis":null},"y":{"datum":0,"type":"quantitative"},"text":{"field":"grp"}}}
]}
],"spacing":5,"bounds":"full","resolve":{"scale":{"color":"independent","stroke":"independent","fill":"independent","xOffset":"independent"}}}
]},
{"spacing":0,"resolve":{"scale":{"color":"independent","stroke":"independent","fill":"independent","xOffset":"independent"}},"vconcat":[
{"hconcat":[
{"width":92.5,"height":103,"layer":[
{"data":{"values":[{}]},"mark":{"type":"rule","color":"#333","strokeWidth":0.9},"encoding":{"x":{"datum":-108,"type":"quantitative"},"x2":{"datum":113},"y":{"datum":0,"type":"quantitative"}}},
{"data":{"values":[{}]},"mark":{"type":"rule","color":"#333","strokeWidth":0.9},"encoding":{"x":{"datum":0,"type":"quantitative"},"y":{"datum":-433,"type":"quantitative"},"y2":{"datum":724}}},
{"data":{"name":"xt"},"mark":{"type":"text","fontSize":6.5,"color":"#333","baseline":"middle","dy":8},"encoding":{"x":{"field":"t","type":"quantitative"},"y":{"datum":0,"type":"quantitative"},"text":{"field":"lab"}}},
{"data":{"name":"yt6"},"mark":{"type":"text","fontSize":6.5,"color":"#333","align":"right","baseline":"middle","dx":-4},"encoding":{"x":{"datum":0,"type":"quantitative"},"y":{"field":"t","type":"quantitative"},"text":{"field":"lab"}}},
{"data":{"name":"ba"},"mark":{"type":"line","strokeWidth":1.1},"encoding":{
"x":{"field":"V","type":"quantitative","scale":{"domain":[-30.1,229],"nice":false,"zero":false},"axis":{"values":[-100,-60,-20,20,60,100],"offset":-29.3,"domain":false,"grid":false,"labels":false,"title":null,"tickSize":2.5,"tickColor":"#333"}},
"y":{"field":"I","type":"quantitative","scale":{"domain":[-433,1089],"nice":false,"zero":false},"axis":{"values":[-300,300,600],"offset":-10.75,"domain":false,"grid":false,"labels":false,"title":null,"tickSize":2.5,"tickColor":"#333"}},
"stroke":{"field":"s","type":"nominal","scale":{"domain":["Control","Washout","BI-749327"],"range":["#e3232b","#2f8a3c","#1b2080"]},"legend":null}}},
{"data":{"name":"ba"},"transform":[{"filter":"datum.V == 95"}],"mark":{"type":"text","text":"←","align":"left","baseline":"middle","dx":3,"fontSize":9},"encoding":{"x":{"field":"V","type":"quantitative"},"y":{"field":"I","type":"quantitative"},"fill":{"field":"s","type":"nominal","scale":{"domain":["Control","Washout","BI-749327"],"range":["#e3232b","#2f8a3c","#1b2080"]},"legend":null}}},
{"data":{"name":"ba"},"transform":[{"filter":"datum.V == 95"}],"mark":{"type":"text","align":"left","baseline":"middle","dx":14,"fontSize":7.2},"encoding":{"x":{"field":"V","type":"quantitative"},"y":{"field":"I","type":"quantitative"},"text":{"field":"s"},"fill":{"field":"s","type":"nominal","scale":{"domain":["Control","Washout","BI-749327"],"range":["#e3232b","#2f8a3c","#1b2080"]},"legend":null}}},
{"data":{"values":[{}]},"mark":{"type":"text","text":"B","align":"left","baseline":"middle","fontSize":11.5,"fontWeight":"bold","color":"#111"},"encoding":{"x":{"datum":-138,"type":"quantitative"},"y":{"datum":1050,"type":"quantitative"}}},
{"data":{"values":[{}]},"mark":{"type":"text","text":"a","align":"left","baseline":"middle","fontSize":11,"fontStyle":"italic","color":"#111"},"encoding":{"x":{"datum":-120,"type":"quantitative"},"y":{"datum":880,"type":"quantitative"}}},
{"data":{"values":[{}]},"mark":{"type":"text","text":"Stretch-mediated I","align":"left","baseline":"middle","fontSize":7,"color":"#2e8b87"},"encoding":{"x":{"datum":-96,"type":"quantitative"},"y":{"datum":911,"type":"quantitative"}}},
{"data":{"values":[{}]},"mark":{"type":"text","text":"Cation","align":"left","baseline":"middle","fontSize":5,"color":"#2e8b87"},"encoding":{"x":{"datum":64,"type":"quantitative"},"y":{"datum":860,"type":"quantitative"}}},
{"data":{"values":[{}]},"mark":{"type":"text","text":"I (pA)","align":"center","baseline":"middle","fontSize":7,"angle":270,"color":"#222"},"encoding":{"x":{"datum":-38,"type":"quantitative"},"y":{"datum":503,"type":"quantitative"}}},
{"data":{"values":[{}]},"mark":{"type":"text","text":"V (mV)","align":"center","baseline":"middle","fontSize":7,"color":"#222"},"encoding":{"x":{"datum":72,"type":"quantitative"},"y":{"datum":-260,"type":"quantitative"}}}
]},
{"width":97,"height":103,"view":{"fill":"#efefef","stroke":"#c8c8c8"},"layer":[
{"data":{"values":[{}]},"mark":{"type":"rule","color":"#333","strokeWidth":0.9},"encoding":{"x":{"datum":-113,"type":"quantitative"},"x2":{"datum":109},"y":{"datum":0,"type":"quantitative"}}},
{"data":{"values":[{}]},"mark":{"type":"rule","color":"#333","strokeWidth":0.9},"encoding":{"x":{"datum":0,"type":"quantitative"},"y":{"datum":-457,"type":"quantitative"},"y2":{"datum":693}}},
{"data":{"name":"xt"},"mark":{"type":"text","fontSize":6.5,"color":"#333","baseline":"middle","dy":8},"encoding":{"x":{"field":"t","type":"quantitative"},"y":{"datum":0,"type":"quantitative"},"text":{"field":"lab"}}},
{"data":{"name":"yt6"},"mark":{"type":"text","fontSize":6.5,"color":"#333","align":"right","baseline":"middle","dx":-4},"encoding":{"x":{"datum":0,"type":"quantitative"},"y":{"field":"t","type":"quantitative"},"text":{"field":"lab"}}},
{"data":{"name":"bb"},"mark":{"type":"line","strokeWidth":1.1,"color":"#7b2d8b"},"encoding":{
"x":{"field":"V","type":"quantitative","scale":{"domain":[-131.6,132.7],"nice":false,"zero":false},"axis":{"values":[-100,-60,-20,20,60,100],"offset":-30.5,"domain":false,"grid":false,"labels":false,"title":null,"tickSize":2.5,"tickColor":"#333"}},
"y":{"field":"I","type":"quantitative","scale":{"domain":[-457,1087],"nice":false,"zero":false},"axis":{"values":[-300,300,600],"offset":-48.3,"domain":false,"grid":false,"labels":false,"title":null,"tickSize":2.5,"tickColor":"#333"}}}},
{"data":{"values":[{}]},"mark":{"type":"text","text":"b","align":"left","baseline":"middle","fontSize":11,"fontStyle":"italic","color":"#111"},"encoding":{"x":{"datum":-127,"type":"quantitative"},"y":{"datum":832,"type":"quantitative"}}},
{"data":{"values":[{}]},"mark":{"type":"text","text":"BI-749327-sensitive","align":"center","baseline":"middle","fontSize":7,"color":"#7b2d8b"},"encoding":{"x":{"datum":2,"type":"quantitative"},"y":{"datum":967,"type":"quantitative"}}},
{"data":{"values":[{}]},"mark":{"type":"text","text":"stretch-mediated I","align":"left","baseline":"middle","fontSize":7,"color":"#7b2d8b"},"encoding":{"x":{"datum":-99,"type":"quantitative"},"y":{"datum":802,"type":"quantitative"}}},
{"data":{"values":[{}]},"mark":{"type":"text","text":"Cation","align":"left","baseline":"middle","fontSize":5,"color":"#7b2d8b"},"encoding":{"x":{"datum":55,"type":"quantitative"},"y":{"datum":765,"type":"quantitative"}}},
{"data":{"values":[{}]},"mark":{"type":"text","text":"I (pA)","align":"center","baseline":"middle","fontSize":7,"angle":270,"color":"#222"},"encoding":{"x":{"datum":-41,"type":"quantitative"},"y":{"datum":480,"type":"quantitative"}}},
{"data":{"values":[{}]},"mark":{"type":"text","text":"V (mV)","align":"center","baseline":"middle","fontSize":7,"color":"#222"},"encoding":{"x":{"datum":73,"type":"quantitative"},"y":{"datum":-292,"type":"quantitative"}}}
]},
{"width":137,"height":103,"layer":[
{"data":{"values":[{}]},"mark":{"type":"rule","color":"#333","strokeWidth":0.9},"encoding":{"x":{"datum":-108,"type":"quantitative"},"x2":{"datum":110},"y":{"datum":0,"type":"quantitative"}}},
{"data":{"values":[{}]},"mark":{"type":"rule","color":"#333","strokeWidth":0.9},"encoding":{"x":{"datum":0,"type":"quantitative"},"y":{"datum":-671,"type":"quantitative"},"y2":{"datum":1220}}},
{"data":{"name":"xt"},"mark":{"type":"text","fontSize":6.5,"color":"#333","baseline":"middle","dy":8},"encoding":{"x":{"field":"t","type":"quantitative"},"y":{"datum":0,"type":"quantitative"},"text":{"field":"lab"}}},
{"data":{"name":"yt12"},"mark":{"type":"text","fontSize":6.5,"color":"#333","align":"right","baseline":"middle","dx":-4},"encoding":{"x":{"datum":0,"type":"quantitative"},"y":{"field":"t","type":"quantitative"},"text":{"field":"lab"}}},
{"data":{"name":"da"},"mark":{"type":"line","strokeWidth":1.1},"encoding":{
"x":{"field":"V","type":"quantitative","scale":{"domain":[-147.6,214.8],"nice":false,"zero":false},"axis":{"values":[-100,-60,-20,20,60,100],"offset":-27.5,"domain":false,"grid":false,"labels":false,"title":null,"tickSize":2.5,"tickColor":"#333"}},
"y":{"field":"I","type":"quantitative","scale":{"domain":[-671,1841],"nice":false,"zero":false},"axis":{"values":[-600,300,600,900,1200],"offset":-55.8,"domain":false,"grid":false,"labels":false,"title":null,"tickSize":2.5,"tickColor":"#333"}},
"stroke":{"field":"s","type":"nominal","scale":{"domain":["Control","Washout","BI-749327"],"range":["#e3232b","#7b3f9e","#1b2080"]},"legend":null}}},
{"data":{"name":"da"},"transform":[{"filter":"datum.V == 95"}],"mark":{"type":"text","text":"←","align":"left","baseline":"middle","dx":3,"fontSize":9},"encoding":{"x":{"field":"V","type":"quantitative"},"y":{"field":"I","type":"quantitative"},"fill":{"field":"s","type":"nominal","scale":{"domain":["Control","Washout","BI-749327"],"range":["#e3232b","#2f8a3c","#1b2080"]},"legend":null}}},
{"data":{"name":"da"},"transform":[{"filter":"datum.V == 95"}],"mark":{"type":"text","align":"left","baseline":"middle","dx":14,"fontSize":7.2},"encoding":{"x":{"field":"V","type":"quantitative"},"y":{"field":"I","type":"quantitative"},"text":{"field":"s"},"fill":{"field":"s","type":"nominal","scale":{"domain":["Control","Washout","BI-749327"],"range":["#e3232b","#2f8a3c","#1b2080"]},"legend":null}}},
{"data":{"values":[{}]},"mark":{"type":"text","text":"D","align":"left","baseline":"middle","fontSize":11.5,"fontWeight":"bold","color":"#111"},"encoding":{"x":{"datum":-139.7,"type":"quantitative"},"y":{"datum":1770,"type":"quantitative"}}},
{"data":{"values":[{}]},"mark":{"type":"text","text":"a","align":"left","baseline":"middle","fontSize":11,"fontStyle":"italic","color":"#111"},"encoding":{"x":{"datum":-121,"type":"quantitative"},"y":{"datum":1445,"type":"quantitative"}}},
{"data":{"values":[{}]},"mark":{"type":"text","text":"OAG-mediated I","align":"left","baseline":"middle","fontSize":7,"color":"#2e8b87"},"encoding":{"x":{"datum":-82,"type":"quantitative"},"y":{"datum":1500,"type":"quantitative"}}},
{"data":{"values":[{}]},"mark":{"type":"text","text":"Cation","align":"left","baseline":"middle","fontSize":5,"color":"#2e8b87"},"encoding":{"x":{"datum":52,"type":"quantitative"},"y":{"datum":1439,"type":"quantitative"}}},
{"data":{"values":[{}]},"mark":{"type":"text","text":"I (pA)","align":"center","baseline":"middle","fontSize":7,"angle":270,"color":"#222"},"encoding":{"x":{"datum":-58,"type":"quantitative"},"y":{"datum":817,"type":"quantitative"}}},
{"data":{"values":[{}]},"mark":{"type":"text","text":"V (mV)","align":"center","baseline":"middle","fontSize":7,"color":"#222"},"encoding":{"x":{"datum":72,"type":"quantitative"},"y":{"datum":-451,"type":"quantitative"}}}
]},
{"width":96,"height":103,"view":{"fill":"#efefef","stroke":"#c8c8c8"},"layer":[
{"data":{"values":[{}]},"mark":{"type":"rule","color":"#333","strokeWidth":0.9},"encoding":{"x":{"datum":-119,"type":"quantitative"},"x2":{"datum":111},"y":{"datum":0,"type":"quantitative"}}},
{"data":{"values":[{}]},"mark":{"type":"rule","color":"#333","strokeWidth":0.9},"encoding":{"x":{"datum":0,"type":"quantitative"},"y":{"datum":-666,"type":"quantitative"},"y2":{"datum":1244}}},
{"data":{"name":"xt"},"mark":{"type":"text","fontSize":6.5,"color":"#333","baseline":"middle","dy":8},"encoding":{"x":{"field":"t","type":"quantitative"},"y":{"datum":0,"type":"quantitative"},"text":{"field":"lab"}}},
{"data":{"name":"yt12"},"mark":{"type":"text","fontSize":6.5,"color":"#333","align":"right","baseline":"middle","dx":-4},"encoding":{"x":{"datum":0,"type":"quantitative"},"y":{"field":"t","type":"quantitative"},"text":{"field":"lab"}}},
{"data":{"name":"db"},"mark":{"type":"line","strokeWidth":1.1,"color":"#7b2d8b"},"encoding":{
"x":{"field":"V","type":"quantitative","scale":{"domain":[-138,128],"nice":false,"zero":false},"axis":{"values":[-100,-60,-20,20,60,100],"offset":-27.3,"domain":false,"grid":false,"labels":false,"title":null,"tickSize":2.5,"tickColor":"#333"}},
"y":{"field":"I","type":"quantitative","scale":{"domain":[-666,1846],"nice":false,"zero":false},"axis":{"values":[-600,300,600,900,1200],"offset":-49.8,"domain":false,"grid":false,"labels":false,"title":null,"tickSize":2.5,"tickColor":"#333"}}}},
{"data":{"values":[{}]},"mark":{"type":"text","text":"b","align":"left","baseline":"middle","fontSize":11,"fontStyle":"italic","color":"#111"},"encoding":{"x":{"datum":-128,"type":"quantitative"},"y":{"datum":1427,"type":"quantitative"}}},
{"data":{"values":[{}]},"mark":{"type":"text","text":"BI-749327-sensitive","align":"center","baseline":"middle","fontSize":7,"color":"#7b2d8b"},"encoding":{"x":{"datum":-10.5,"type":"quantitative"},"y":{"datum":1605,"type":"quantitative"}}},
{"data":{"values":[{}]},"mark":{"type":"text","text":"OAG-mediated I","align":"left","baseline":"middle","fontSize":7,"color":"#7b2d8b"},"encoding":{"x":{"datum":-95.5,"type":"quantitative"},"y":{"datum":1407,"type":"quantitative"}}},
{"data":{"values":[{}]},"mark":{"type":"text","text":"Cation","align":"left","baseline":"middle","fontSize":5,"color":"#7b2d8b"},"encoding":{"x":{"datum":46,"type":"quantitative"},"y":{"datum":1346,"type":"quantitative"}}},
{"data":{"values":[{}]},"mark":{"type":"text","text":"I (pA)","align":"center","baseline":"middle","fontSize":7,"angle":270,"color":"#222"},"encoding":{"x":{"datum":-35,"type":"quantitative"},"y":{"datum":846,"type":"quantitative"}}},
{"data":{"values":[{}]},"mark":{"type":"text","text":"V (mV)","align":"center","baseline":"middle","fontSize":7,"color":"#222"},"encoding":{"x":{"datum":67,"type":"quantitative"},"y":{"datum":-468,"type":"quantitative"}}}
]}
],"spacing":3,"bounds":"flush","resolve":{"scale":{"color":"independent","stroke":"independent","fill":"independent","xOffset":"independent"}}},
{"hconcat":[
{"width":104,"height":72,"title":{"text":"c","anchor":"start","frame":"bounds","fontSize":10,"fontStyle":"italic","fontWeight":"normal","offset":1},"layer":[
{"data":{"values":[{}]},"mark":{"type":"rule","color":"#333","strokeWidth":0.9},"encoding":{"y":{"datum":0,"type":"quantitative"}}},
{"data":{"name":"bcBars"},"mark":{"type":"bar","stroke":"#333","strokeWidth":0.4},"encoding":{
"x":{"field":"grp","type":"nominal","scale":{"domain":["-100 mV","+100 mV"],"paddingInner":0.34,"paddingOuter":0.06},"axis":null},
"xOffset":{"field":"cond","type":"nominal","scale":{"domain":["Control","BI-749327 (50 nM)","Washout"],"paddingInner":0.42,"paddingOuter":0}},
"y":{"field":"amp","type":"quantitative","scale":{"domain":[-600,1200],"nice":false},"axis":{"values":[-600,-300,0,300,600,900,1200],"labels":false,"title":["Amplitude of","Stretch-mediated ICation (pA)"],"titleFontSize":6.1,"titleLineHeight":9,"titleFontWeight":"normal","titleColor":"#222","titlePadding":16,"tickSize":3,"tickColor":"#333","domainColor":"#333","grid":false}},
"color":{"field":"cond","type":"nominal","scale":{"domain":["Control","BI-749327 (50 nM)","Washout"],"range":["#e3232b","#1b2080","#1e7f2e"]},"legend":{"title":null,"orient":"right","offset":12,"symbolType":"square","symbolSize":30,"symbolStrokeWidth":0,"labelFontSize":6.3,"rowPadding":2.7,"padding":0,"labelOffset":3,"encode":{"labels":{"update":{"fill":{"signal":"datum.value == 'Control' ? '#e3232b' : datum.value == 'Washout' ? '#1e7f2e' : '#1b2080'"}}}}}}}},
{"data":{"name":"ybar"},"mark":{"type":"text","fontSize":6.5,"color":"#333","align":"right","baseline":"middle","dx":-8.5},"encoding":{"x":{"datum":"-100 mV","type":"nominal","bandPosition":0,"axis":null},"y":{"field":"t","type":"quantitative"},"text":{"field":"lab"}}},
{"data":{"name":"bcPts"},"mark":{"type":"point","filled":true,"fill":"white","stroke":"#777","strokeWidth":0.6,"size":9},"encoding":{"x":{"field":"grp","type":"nominal","axis":null},"xOffset":{"field":"cond","type":"nominal"},"y":{"field":"v","type":"quantitative"}}},
{"data":{"name":"bcBars"},"transform":[{"filter":"datum.sig != ''"}],"mark":{"type":"text","fontSize":8,"fontWeight":"bold","baseline":"middle","color":"#111","dy":{"expr":"datum.amp < 0 ? 8 : -6"}},"encoding":{"x":{"field":"grp","type":"nominal","axis":null},"xOffset":{"field":"cond","type":"nominal"},"y":{"field":"amp","type":"quantitative"},"text":{"field":"sig"}}},
{"data":{"values":[{"grp":"-100 mV"},{"grp":"+100 mV"}]},"mark":{"type":"text","fontSize":6.3,"baseline":"middle","color":"#111","dy":{"expr":"datum.grp == '-100 mV' ? -5 : 5"}},"encoding":{"x":{"field":"grp","type":"nominal","axis":null},"y":{"datum":0,"type":"quantitative"},"text":{"field":"grp"}}},
{"data":{"values":[{}]},"mark":{"type":"text","text":"Hypo-Osm","align":"left","baseline":"middle","fontSize":7,"color":"#111"},"encoding":{"x":{"datum":"-100 mV","type":"nominal","bandPosition":0,"axis":null},"y":{"datum":1200,"type":"quantitative"}}}
]},
{"width":110,"height":72,"title":{"text":"c","anchor":"start","frame":"bounds","fontSize":10,"fontStyle":"italic","fontWeight":"normal","offset":1},"layer":[
{"data":{"values":[{}]},"mark":{"type":"rule","color":"#333","strokeWidth":0.9},"encoding":{"y":{"datum":0,"type":"quantitative"}}},
{"data":{"name":"dcBars"},"mark":{"type":"bar","stroke":"#333","strokeWidth":0.4},"encoding":{
"x":{"field":"grp","type":"nominal","scale":{"domain":["-100 mV","+100 mV"],"paddingInner":0.347,"paddingOuter":0.1},"axis":null},
"xOffset":{"field":"cond","type":"nominal","scale":{"domain":["Control","BI-749327 (50 nM)","Washout"],"paddingInner":0.42,"paddingOuter":0}},
"y":{"field":"amp","type":"quantitative","scale":{"domain":[-600,1200],"nice":false},"axis":{"values":[-600,-300,0,300,600,900,1200],"labels":false,"title":["Amplitude of","OAG-mediated ICation (pA)"],"titleFontSize":6.1,"titleLineHeight":9,"titleFontWeight":"normal","titleColor":"#222","titlePadding":16,"tickSize":3,"tickColor":"#333","domainColor":"#333","grid":false}},
"color":{"field":"cond","type":"nominal","scale":{"domain":["Control","BI-749327 (50 nM)","Washout"],"range":["#e3232b","#1b2080","#1e7f2e"]},"legend":{"title":null,"orient":"right","offset":11,"symbolType":"square","symbolSize":30,"symbolStrokeWidth":0,"labelFontSize":6.3,"rowPadding":2.7,"padding":0,"labelOffset":3,"encode":{"labels":{"update":{"fill":{"signal":"datum.value == 'Control' ? '#e3232b' : datum.value == 'Washout' ? '#1e7f2e' : '#1b2080'"}}}}}}}},
{"data":{"name":"ybar"},"mark":{"type":"text","fontSize":6.5,"color":"#333","align":"right","baseline":"middle","dx":-10.9},"encoding":{"x":{"datum":"-100 mV","type":"nominal","bandPosition":0,"axis":null},"y":{"field":"t","type":"quantitative"},"text":{"field":"lab"}}},
{"data":{"name":"dcPts"},"mark":{"type":"point","filled":true,"fill":"white","stroke":"#777","strokeWidth":0.6,"size":9},"encoding":{"x":{"field":"grp","type":"nominal","axis":null},"xOffset":{"field":"cond","type":"nominal"},"y":{"field":"v","type":"quantitative"}}},
{"data":{"name":"dcBars"},"transform":[{"filter":"datum.sig != ''"}],"mark":{"type":"text","fontSize":8,"fontWeight":"bold","baseline":"middle","color":"#111","dy":{"expr":"datum.amp < 0 ? 8 : -6"}},"encoding":{"x":{"field":"grp","type":"nominal","axis":null},"xOffset":{"field":"cond","type":"nominal"},"y":{"field":"amp","type":"quantitative"},"text":{"field":"sig"}}},
{"data":{"values":[{"grp":"-100 mV"},{"grp":"+100 mV"}]},"mark":{"type":"text","fontSize":6.3,"baseline":"middle","color":"#111","dy":{"expr":"datum.grp == '-100 mV' ? -5 : 5"}},"encoding":{"x":{"field":"grp","type":"nominal","axis":null},"y":{"datum":0,"type":"quantitative"},"text":{"field":"grp"}}},
{"data":{"values":[{}]},"mark":{"type":"text","text":"OAG","align":"left","baseline":"middle","fontSize":7,"color":"#111"},"encoding":{"x":{"datum":"-100 mV","type":"nominal","bandPosition":0,"axis":null},"y":{"datum":1200,"type":"quantitative"}}}
]}
],"spacing":18,"bounds":"full","resolve":{"scale":{"color":"independent","stroke":"independent","fill":"independent","xOffset":"independent"}}}
]}
]
}
